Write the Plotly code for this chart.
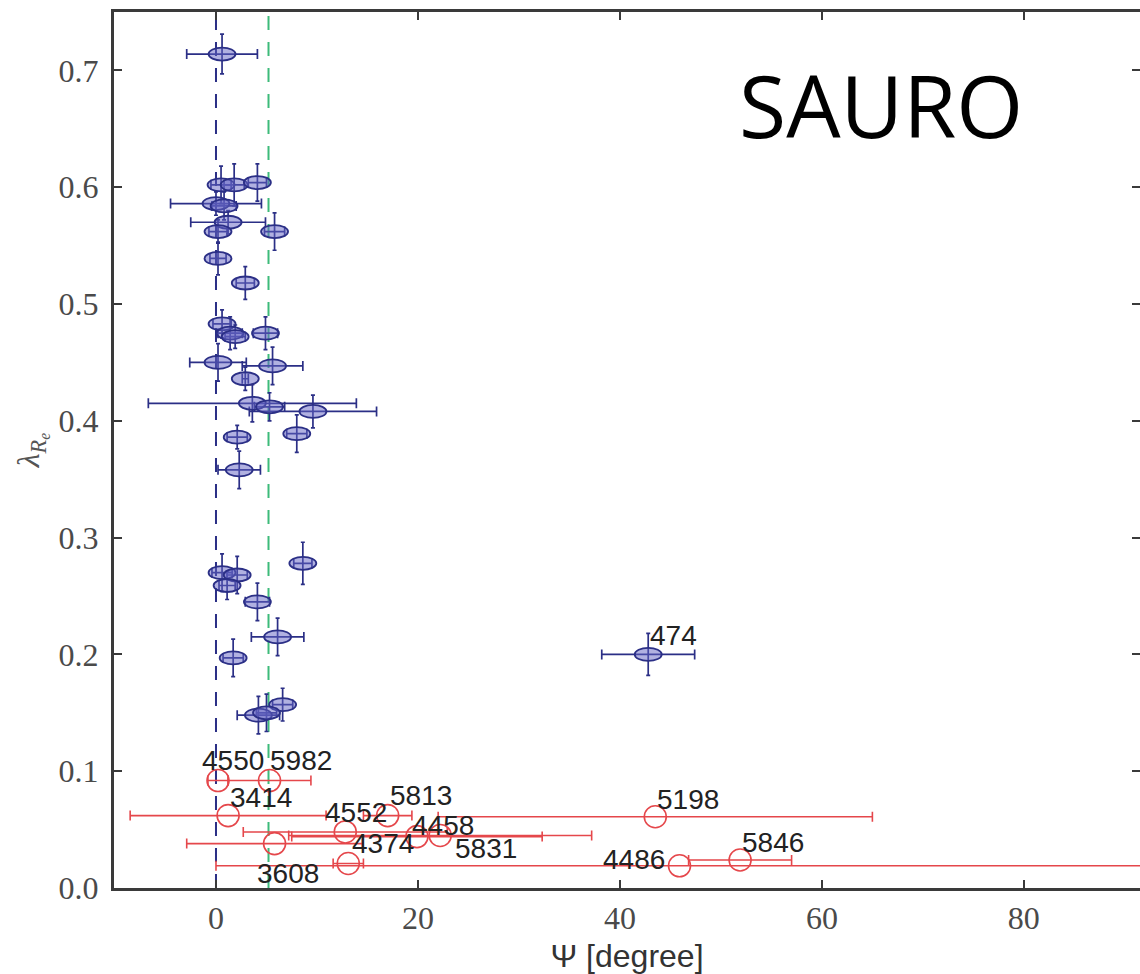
import plotly.graph_objects as go

# ---------------- data ----------------
# blue: fast/slow rotators with ellipse markers (Psi [deg], lambda_Re, errors)
blue_x = [0.6, 0.5, 1.8, 4.1, 0.0, 0.8, 1.2, 5.8, 0.2, 0.2, 2.9, 0.6, 1.4, 1.9, 4.9,
          0.2, 5.6, 2.9, 3.6, 5.3, 9.6, 8.0, 2.1, 2.3, 8.6, 0.6, 2.1, 1.1, 4.1, 6.1,
          1.7, 6.6, 4.2, 5.0, 42.8]
blue_y = [0.714, 0.602, 0.602, 0.604, 0.586, 0.584, 0.570, 0.562, 0.562, 0.539, 0.518,
          0.483, 0.475, 0.472, 0.475, 0.450, 0.447, 0.436, 0.415, 0.412, 0.408, 0.389,
          0.386, 0.358, 0.278, 0.270, 0.268, 0.259, 0.245, 0.215, 0.197, 0.157, 0.148,
          0.150, 0.200]
blue_ex = [3.5, 1.0, 1.0, 0.9, 4.5, 1.2, 3.7, 1.0, 0.9, 0.8, 0.9, 0.9, 1.2, 1.0, 1.2,
           2.8, 3.0, 0.3, 10.3, 1.5, 6.3, 1.0, 1.0, 2.1, 0.9, 1.0, 1.0, 0.8, 1.2, 2.6,
           1.0, 1.0, 2.1, 1.0, 4.6]
blue_ey = [0.017, 0.016, 0.018, 0.016, 0.010, 0.012, 0.010, 0.016, 0.010, 0.014, 0.014,
           0.012, 0.014, 0.010, 0.014, 0.016, 0.016, 0.010, 0.016, 0.012, 0.014, 0.016,
           0.010, 0.016, 0.018, 0.016, 0.016, 0.012, 0.016, 0.016, 0.016, 0.014, 0.016,
           0.016, 0.018]
blue_names = ["474"]          # labelled blue point (last one)

# red: open circles
red_names = ["4550", "5982", "3414", "5813", "4552", "4458", "5831", "3608",
             "4374", "5198", "5846", "4486"]
red_x = [0.2, 5.3, 1.2, 17.0, 12.8, 19.9, 22.2, 5.8, 13.1, 43.5, 51.9, 45.9]
red_y = [0.092, 0.092, 0.062, 0.062, 0.048, 0.044, 0.045, 0.038, 0.021, 0.061, 0.024, 0.019]
red_ex = [1.0, 4.1, 9.7, 2.4, 10.1, 12.4, 15.0, 8.7, 1.5, 21.5, 5.1, 45.9]

ref_lines = [0.0, 5.2]        # vertical dashed reference lines (Psi)

x_ticks = [0, 20, 40, 60, 80]
y_ticks = [0.0, 0.1, 0.2, 0.3, 0.4, 0.5, 0.6, 0.7]

# ---------------- layout constants ----------------
W, H = 1140, 974
ML, MR, MT, MB = 114, 0, 12, 86
XR = [-10.1, 91.5]
YR = [0.0, 0.75]
px_x = (W - ML - MR) / (XR[1] - XR[0])
px_y = (H - MT - MB) / (YR[1] - YR[0])

NAVY = "#2b2f86"
RED = "#e5474b"
GREEN = "#3dbb7a"

fig = go.Figure()

# reference dashed lines
for xv, col in zip(ref_lines, [NAVY, GREEN]):
    fig.add_trace(go.Scatter(x=[xv, xv], y=YR, mode="lines",
                             line=dict(color=col, width=2, dash="14px,12px"),
                             hoverinfo="skip", showlegend=False))

# blue error bars
fig.add_trace(go.Scatter(
    x=blue_x, y=blue_y, mode="markers",
    marker=dict(size=1, color=NAVY, opacity=0),
    error_x=dict(type="data", array=blue_ex, color=NAVY, thickness=1.7, width=5),
    error_y=dict(type="data", array=blue_ey, color=NAVY, thickness=1.7, width=2),
    showlegend=False))

# blue ellipses (from data centres, fixed pixel size)
hw = 13.5 / px_x
hh = 6.5 / px_y
for xv, yv in zip(blue_x, blue_y):
    fig.add_shape(type="circle", xref="x", yref="y",
                  x0=xv - hw, x1=xv + hw, y0=yv - hh, y1=yv + hh,
                  line=dict(color=NAVY, width=1.8),
                  fillcolor="rgba(100,100,195,0.5)", layer="above")

# red circles
fig.add_trace(go.Scatter(
    x=red_x, y=red_y, mode="markers",
    marker=dict(symbol="circle-open", size=22, color=RED, line=dict(width=1.6)),
    error_x=dict(type="data", array=red_ex, color=RED, thickness=1.6, width=5),
    showlegend=False))

# labels (pixel offsets relative to the points)
label_font = dict(family="Liberation Sans, Arial, sans-serif", size=28, color="#222")
red_offsets = {  # name: (dx, dy, anchor)
    "4550": (-18, 20, "left"), "5982": (-2, 20, "left"), "3414": (0, 18, "left"),
    "5813": (0, 20, "left"), "4552": (-22, 19, "left"), "4458": (-7, 11, "left"),
    "5831": (13, -13, "left"), "3608": (-20, -30, "left"), "4374": (2, 20, "left"),
    "5198": (0, 17, "left"), "5846": (0, 17, "left"), "4486": (-13, 6, "right"),
}
for n, xv, yv in zip(red_names, red_x, red_y):
    dx, dy, anc = red_offsets[n]
    fig.add_annotation(x=xv, y=yv, text=n, showarrow=False, xanchor=anc, yanchor="middle",
                       xshift=dx, yshift=dy, font=label_font)
fig.add_annotation(x=blue_x[-1], y=blue_y[-1], text=blue_names[0], showarrow=False,
                   xanchor="left", yanchor="middle", xshift=0, yshift=19, font=label_font)

# SAURO label
fig.add_annotation(xref="paper", yref="paper", x=(881 - ML) / (W - ML - MR),
                   y=1 - (105 - MT) / (H - MT - MB), text="SAURO", showarrow=False,
                   xanchor="center", yanchor="middle",
                   font=dict(family="Open Sans, sans-serif", size=86, color="black"))

tickfont = dict(family="Liberation Serif, Times New Roman, serif", size=32, color="#4a4a4a")
fig.update_layout(
    width=W, height=H, margin=dict(l=ML, r=MR, t=MT, b=MB, autoexpand=False),
    paper_bgcolor="white", plot_bgcolor="white",
    xaxis=dict(range=XR, tickvals=x_ticks, ticktext=[str(t) for t in x_ticks],
               automargin=False,
               showgrid=False, zeroline=False, showline=True, linecolor="#3a3a3a",
               linewidth=3, mirror="ticks", ticks="inside", ticklen=8, tickwidth=2,
               tickcolor="#3a3a3a", tickfont=tickfont, ticklabelstandoff=0,
               title=dict(text="Ψ [degree]", standoff=18,
                          font=dict(family="Liberation Sans, Arial, sans-serif", size=32,
                                    color="#333"))),
    yaxis=dict(range=YR, tickvals=y_ticks, ticktext=[f"{t:.1f}" for t in y_ticks],
               automargin=False,
               showgrid=False, zeroline=False, showline=True, linecolor="#3a3a3a",
               linewidth=3, ticks="inside", ticklen=8, tickwidth=2, tickcolor="#3a3a3a",
               tickfont=tickfont, ticklabelstandoff=6,
               title=dict(text="<i>λ<sub>R<sub>e</sub></sub></i>", standoff=10,
                          font=dict(family="Liberation Serif, serif", size=32, color="#555"))),
    yaxis2=dict(range=YR, overlaying="y", side="right", tickvals=y_ticks,
                automargin=False,
                showticklabels=False, showgrid=False, zeroline=False, showline=False,
                ticks="inside", ticklen=8, tickwidth=2, tickcolor="#3a3a3a"),
)
# dummy trace to show yaxis2 ticks
fig.add_trace(go.Scatter(x=[None], y=[None], yaxis="y2", showlegend=False))

fig.write_html("out.html")
